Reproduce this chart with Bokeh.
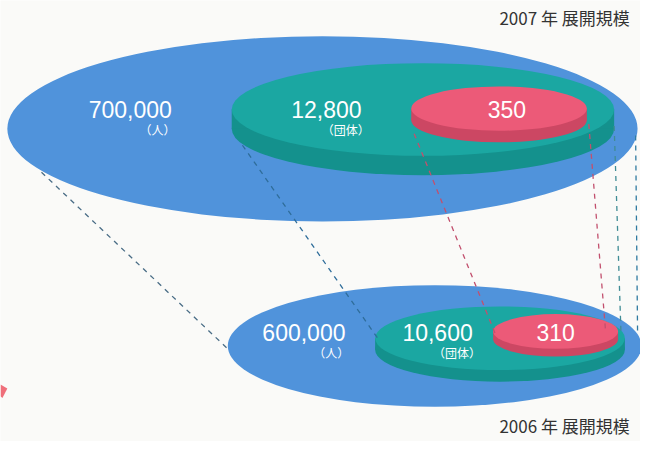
from bokeh.plotting import figure
from bokeh.models import Range1d
from bokeh.embed import file_html
from bokeh.resources import INLINE
from bokeh.core.properties import value

# ---- data ----
years = ["2007", "2006"]
people = [700000, 600000]
groups = [12800, 10600]
units = [350, 310]
unit_people = "（人）"
unit_groups = "（団体）"
title_suffix = " 年 展開規模"

# ---- layout (pixel-like coordinates, y downward) ----
p = figure(width=640, height=441, x_range=Range1d(0, 656), y_range=Range1d(457, 0),
           output_backend="svg", toolbar_location=None, min_border=0)
p.axis.visible = False
p.grid.visible = False
p.outline_line_color = None
p.background_fill_color = "#fafaf8"
p.border_fill_color = "#fafaf8"

BLUE = "#5093db"
TEAL, TEAL_S = "#1ba7a2", "#14918d"
RED, RED_S = "#ec5a78", "#cc4763"

geo = {
    "2007": dict(blue=(330, 133, 323, 96), teal=(433, 113, 196, 48, 20), red=(511, 112, 90, 23, 12),
                 lab=(133, 334, 519), ly=113, title=(645, 18)),
    "2006": dict(blue=(445, 358, 212, 63), teal=(512, 350, 128, 33, 12), red=(569, 343, 64, 18, 8),
                 lab=(311, 448, 569), ly=344, title=(645, 440)),
}


def disc(cx, cy, rx, ry, t, top, side):
    p.ellipse(x=[cx], y=[cy + t], width=[2 * rx], height=[2 * ry], fill_color=side, line_color=None)
    p.quad(left=[cx - rx], right=[cx + rx], top=[cy], bottom=[cy + t], fill_color=side, line_color=None)
    p.ellipse(x=[cx], y=[cy], width=[2 * rx], height=[2 * ry], fill_color=top, line_color=None)


for i, yr in enumerate(years):
    g = geo[yr]
    bx, by, brx, bry = g["blue"]
    p.ellipse(x=[bx], y=[by], width=[2 * brx], height=[2 * bry], fill_color=BLUE, line_color=None)
    disc(*g["teal"], TEAL, TEAL_S)
    disc(*g["red"], RED, RED_S)

# dashed connectors
p.segment(x0=[42], y0=[178], x1=[234], y1=[362], line_color="#4a6d86", line_dash="5 5", line_width=1.3)
p.segment(x0=[248], y0=[150], x1=[388], y1=[352], line_color="#2f6d9a", line_dash="5 5", line_width=1.3)
p.segment(x0=[424], y0=[138], x1=[507], y1=[345], line_color="#c2506e", line_dash="5 5", line_width=1.3)
p.segment(x0=[603], y0=[128], x1=[620], y1=[340], line_color="#c2506e", line_dash="5 5", line_width=1.3)
p.segment(x0=[629], y0=[130], x1=[636], y1=[345], line_color="#3f8c95", line_dash="5 5", line_width=1.3)
p.segment(x0=[651], y0=[140], x1=[653], y1=[345], line_color="#2f7aa0", line_dash="5 5", line_width=1.3)

for i, yr in enumerate(years):
    g = geo[yr]
    lx1, lx2, lx3 = g["lab"]
    ly = g["ly"]
    p.text(x=[lx1, lx2, lx3], y=[ly, ly, ly],
           text=[f"{people[i]:,}", f"{groups[i]:,}", f"{units[i]:,}"],
           text_color="white", text_font=value("Liberation Sans"), text_font_size="23px",
           text_align="center", text_baseline="middle")
    p.text(x=[lx1 + 28, lx2 + 20], y=[ly + 21, ly + 21], text=[unit_people, unit_groups],
           text_color="white", text_font=value("Noto Sans CJK JP"), text_font_size="12px",
           text_align="center", text_baseline="middle")
    tx, ty = g["title"]
    p.text(x=[tx], y=[ty], text=[yr + title_suffix], text_color="#333333",
           text_font=value("Noto Sans CJK JP"), text_font_size="17px",
           text_align="right", text_baseline="middle")

# small pink arrow fragment at lower-left edge
p.patch(x=[0, 7, 2, 0], y=[398, 402, 412, 410], fill_color="#ef6f7a", line_color=None)

open("out.html", "w").write(file_html(p, INLINE))
